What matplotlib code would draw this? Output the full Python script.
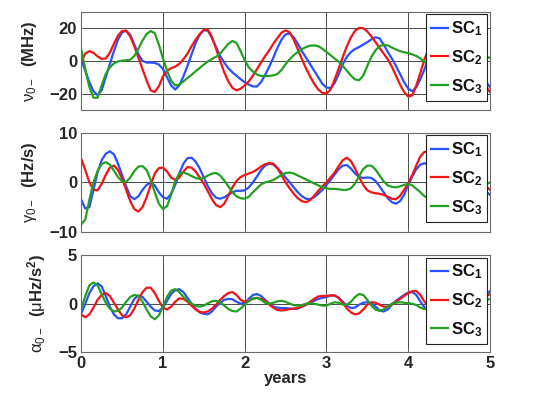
import numpy as np
import matplotlib
matplotlib.use("Agg")
import matplotlib.pyplot as plt

plt.rcParams['font.family'] = ['Liberation Sans', 'DejaVu Sans']
plt.rcParams['mathtext.fontset'] = 'custom'
plt.rcParams['mathtext.rm'] = 'Liberation Sans'
plt.rcParams['mathtext.it'] = 'Liberation Sans'
plt.rcParams['mathtext.bf'] = 'Liberation Sans:bold'

# sampling grid (years)
years = [round(0.05 * i, 2) for i in range(86)] + [4.5, 4.75, 5.0]

# ---- nu_0- (MHz) ----
nu_sc1 = [0.5, -6, -13, -18.5, -21, -18, -10, -2, 6, 13,
          17.5, 18.5, 16, 10, 4, 0, -1, -1, -1.2, -2.2,
          -5, -10, -15, -17.5, -15, -9.5, -3, 4, 11, 16,
          18.8, 18.5, 14, 8.5, 3, -1, -4.5, -7, -9, -11.2,
          -13, -14.5, -15.6, -15.6, -13, -8.5, -3.5, 2, 8, 13,
          16.3, 16.8, 14.5, 10.5, 6, 2, -2, -6, -10, -14,
          -16.3, -16.6, -13.5, -8, -2, 2.5, 5.5, 7.3, 8.5, 10,
          11.5, 13.2, 14.5, 13.8, 10, 5.5, 1.5, -3, -8, -13,
          -17, -18.5, -16, -11, -5, 2,
          15, 0, -16]
nu_sc2 = [-0.5, 4.5, 6, 5, 2.8, 1.2, 1.5, 5, 10.5, 15.5,
          18.3, 18.5, 15, 9, 2, -5, -12, -18, -19, -15.5,
          -9.5, -6, -4.5, -3.5, -1.8, 1, 4.5, 9, 13, 16.5,
          19, 19, 14.5, 7.5, 0, -7, -12.5, -16.5, -18, -17,
          -15, -12.5, -9, -5, -1, 3, 6.5, 10.5, 14, 17.3,
          18.7, 17.5, 13, 7, 1, -4.5, -9.5, -14, -17.5, -19.5,
          -20, -17.5, -11.5, -4.5, 2.5, 9, 14.5, 18.5, 20.2, 20,
          18, 15, 11.5, 8, 4.5, 1, -3.5, -9, -14.5, -19,
          -21.8, -21, -15, -7, 1, 8,
          17, -2, -19]
nu_sc3 = [7, -5, -16, -22.5, -22.5, -15, -8, -4, -1.5, -0.3,
          0.2, 0.4, 0.8, 3, 7.5, 12.5, 16.5, 18.3, 17, 10,
          1.5, -6, -12, -15, -14.5, -12.5, -10.5, -8.5, -6.3, -4.3,
          -2.2, -0.3, 1.2, 2.6, 4.5, 7.5, 10.5, 12.2, 11, 6,
          0.5, -4, -6.5, -8.3, -9.2, -9.3, -9.2, -8.8, -8, -5.5,
          -2, 1, 3.5, 5.5, 7.2, 8.5, 9.3, 9.5, 9, 7.5,
          5.5, 3.5, 1.5, -0.5, -3, -6, -9, -11.3, -11.8, -9,
          -3, 2.5, 6.5, 9, 9.9, 9.5, 8.2, 7, 6, 5.3,
          4.8, 4, 3, 1.5, -0.5, -3,
          -4, 3, 2]

# ---- gamma_0- (Hz/s) ----
gam_sc1 = [-3.5, -5.3, -5, -1.5, 2, 4.5, 5.8, 6.3, 5.7, 3.8,
           1.5, -0.8, -2.8, -3.4, -2.8, -1.5, -0.5, 0, -0.6, -2,
           -3, -3.3, -2.3, -0.5, 1.8, 3.8, 4.9, 5, 4.2, 2.8,
           1, -0.8, -2.2, -3.1, -3.3, -3, -2.5, -2, -1.7, -1.7,
           -1.6, -1, 0, 1.2, 2.5, 3.4, 3.8, 3.6, 2.9, 2,
           1, 0, -1, -2, -2.8, -3.3, -3.4, -3, -2.3, -1.5,
           -0.5, 0.5, 1.6, 2.7, 3.4, 3.5, 2.8, 1.8, 1.1, 0.9,
           1, 0.9, 0.3, -0.8, -2, -3.2, -4, -4.3, -3.8, -2.5,
           -0.5, 1.2, 2.7, 3.6, 3.9, 3.5,
           -1, 1, -2.5]
gam_sc2 = [4.8, 2.5, 0, -1.5, -1.6, -0.3, 1.5, 3, 3.4, 2.5,
           0.8, -1.5, -3.8, -5.4, -5.9, -5, -3, -0.5, 1.8, 2.9,
           3, 2.2, 1, 0.5, 1, 2.2, 3.1, 3, 2.2, 1,
           -0.3, -1.8, -3.4, -4.6, -5, -4.3, -2.7, -1, 0.3, 1.1,
           1.5, 1.8, 2.1, 2.6, 3.2, 3.7, 3.9, 3.8, 2.9, 1.5,
           0, -1.2, -2.3, -3.2, -3.8, -4, -3.6, -2.7, -1.7, -0.8,
           0, 1, 2, 3.3, 4.5, 5, 4.3, 2.8, 1, -0.5,
           -1.6, -2, -2.2, -2.3, -2.5, -2.9, -3.3, -3.4, -2.7, -1.5,
           -0.2, 1.5, 3.5, 5.3, 6.2, 6.2,
           0, 2, -1.5]
gam_sc3 = [-8.5, -7.5, -3.5, 0, 2.3, 3.7, 4.1, 3.6, 2.4, 1.1,
           0.2, 0.1, 1, 2.3, 3.2, 3.3, 2.5, 0.5, -2, -4.3,
           -5.4, -4.8, -2.5, 0.3, 1.8, 2, 1.7, 1.3, 0.9, 0.7,
           0.9, 1.4, 1.8, 1.9, 1.4, 0.4, -0.8, -2, -2.8, -3.2,
           -3.3, -2.9, -2, -1.2, -0.4, 0, 0.2, 0.5, 1, 1.5,
           1.9, 2, 1.8, 1.4, 1, 0.6, 0.2, -0.2, -0.6, -1,
           -1.2, -1.3, -1.3, -1.4, -1.5, -1.5, -1.2, -0.2, 1.3, 2.7,
           3.4, 3.4, 2.6, 1.4, 0.2, -0.6, -0.9, -1, -0.8, -0.5,
           -0.3, -0.6, -1.3, -2, -2.8, -3.2,
           -1, -2, 0]

# ---- alpha_0- (uHz/s^2) ----
alp_sc1 = [-1.0, 0, 1.1, 1.8, 2.1, 1.8, 0.8, -0.3, -1.1, -1.5,
           -1.5, -1.1, -0.3, 0.5, 0.85, 0.7, 0.2, -0.3, -0.7, -0.75,
           -0.4, 0.3, 1, 1.4, 1.5, 1.2, 0.6, 0, -0.5, -0.9,
           -1.05, -1.1, -0.8, -0.3, 0.1, 0.4, 0.5, 0.45, 0.2, 0,
           0.1, 0.5, 0.9, 1.0, 0.8, 0.4, 0, -0.3, -0.4, -0.45,
           -0.45, -0.5, -0.55, -0.5, -0.3, -0.1, 0.1, 0.3, 0.5, 0.6,
           0.7, 0.85, 0.85, 0.6, 0.2, -0.2, -0.45, -0.4, -0.1, 0.1,
           0.15, 0.05, -0.3, -0.7, -0.8, -0.6, -0.1, 0.3, 0.6, 0.9,
           1.15, 1.2, 0.9, 0.2, -0.4, -0.6,
           0.5, -0.5, 1.3]
alp_sc2 = [-1.1, -1.4, -1.1, -0.4, 0.4, 0.9, 1.1, 0.8, 0.1, -0.6,
           -1.2, -1.4, -1.2, -0.5, 0.4, 1.2, 1.65, 1.65, 1.1, 0.3,
           -0.4, -0.6, -0.3, 0.2, 0.55, 0.5, 0.2, -0.2, -0.6, -0.85,
           -0.9, -0.8, -0.5, -0.1, 0.4, 0.8, 1.1, 1.2, 0.9, 0.4,
           0.2, 0.3, 0.5, 0.6, 0.5, 0.3, -0.1, -0.4, -0.65, -0.7,
           -0.65, -0.55, -0.5, -0.45, -0.3, -0.1, 0.2, 0.5, 0.75, 0.8,
           0.8, 0.85, 0.85, 0.6, 0.1, -0.5, -0.9, -1.1, -1.0, -0.6,
           -0.1, 0.15, 0.1, -0.1, -0.3, -0.3, -0.1, 0.2, 0.5, 0.8,
           1.1, 1.3, 1.3, 0.9, 0.2, -0.3,
           0.3, -0.4, 1.0]
alp_sc3 = [-0.5, 0.8, 1.9, 2.2, 1.9, 1.0, 0.1, -0.5, -0.8, -0.75,
           -0.4, 0.2, 0.7, 0.9, 0.8, 0.2, -0.6, -1.3, -1.6, -1.2,
           -0.3, 0.7, 1.35, 1.5, 1.2, 0.7, 0.3, 0, -0.2, -0.3,
           -0.2, 0.05, 0.25, 0.3, 0.15, -0.2, -0.55, -0.75, -0.8, -0.5,
           -0.1, 0.3, 0.55, 0.6, 0.4, 0.1, 0, 0.1, 0.25, 0.3,
           0.2, 0, -0.15, -0.2, -0.15, 0, 0.05, 0, -0.1, -0.2,
           -0.2, 0, 0.15, 0.1, -0.1, -0.1, 0.2, 0.7, 1.0, 0.9,
           0.4, -0.2, -0.6, -0.75, -0.6, -0.3, 0, 0.1, 0.15, 0.1,
           0.05, 0, -0.15, -0.4, -0.55, -0.5,
           0.3, -0.3, 0.5]

labels = ['SC$_\\mathbf{1}$', 'SC$_\\mathbf{2}$', 'SC$_\\mathbf{3}$']
colors = ['#2850ff', '#f01414', '#22a022']

panels = [
    ([nu_sc1, nu_sc2, nu_sc3], (-30, 30), [-20, 0, 20], r'$\nu_{0-}$  (MHz)'),
    ([gam_sc1, gam_sc2, gam_sc3], (-10, 10), [-10, 0, 10], r'$\gamma_{0-}$  (Hz/s)'),
    ([alp_sc1, alp_sc2, alp_sc3], (-5, 5), [-5, 0, 5], r'$\alpha_{0-}$  ($\mu$Hz/s$^\mathbf{2}$)'),
]

for series, *_ in panels:
    for s in series:
        assert len(s) == len(years), len(s)

fig = plt.figure(figsize=(5.45, 3.97), dpi=100)
rects = [[0.149, 0.723, 0.750, 0.247],
         [0.149, 0.416, 0.750, 0.249],
         [0.149, 0.113, 0.750, 0.244]]

tick_color = '#262626'
for i, (series, ylim, yticks, ylabel) in enumerate(panels):
    ax = fig.add_axes(rects[i])
    for s, c, lab in zip(series, colors, labels):
        ax.plot(years, s, color=c, lw=1.6, label=lab, solid_joinstyle='round')
    ax.set_xlim(0, 5)
    ax.set_ylim(*ylim)
    ax.set_xticks([0, 1, 2, 3, 4, 5])
    ax.set_yticks(yticks)
    ax.grid(True, color='#4a4a4a', lw=0.7)
    ax.set_axisbelow(True)
    for sp in ax.spines.values():
        sp.set_color('#6a6a6a')
        sp.set_linewidth(0.8)
    ax.tick_params(direction='in', length=3, width=0.6, color='#6a6a6a',
                   labelsize=12, labelcolor=tick_color, pad=3)
    for lbl in ax.get_yticklabels() + ax.get_xticklabels():
        lbl.set_fontweight('bold')
    if i < 2:
        ax.set_xticklabels([])
    else:
        ax.set_xlabel('years', fontsize=12, fontweight='bold', color=tick_color, labelpad=0)
    ax.set_ylabel(ylabel, fontsize=12, fontweight='bold', color=tick_color, labelpad=7)
    leg = ax.legend(loc='upper right', fontsize=12, frameon=True, fancybox=False,
                    framealpha=1, edgecolor='#222222', borderpad=0.3,
                    labelspacing=0.6, handlelength=1.0, handletextpad=0.2,
                    borderaxespad=0.15)
    leg.get_frame().set_linewidth(0.8)
    for txt in leg.get_texts():
        txt.set_fontweight('bold')
        txt.set_color('#111111')

fig.savefig('out.png', dpi=100)
